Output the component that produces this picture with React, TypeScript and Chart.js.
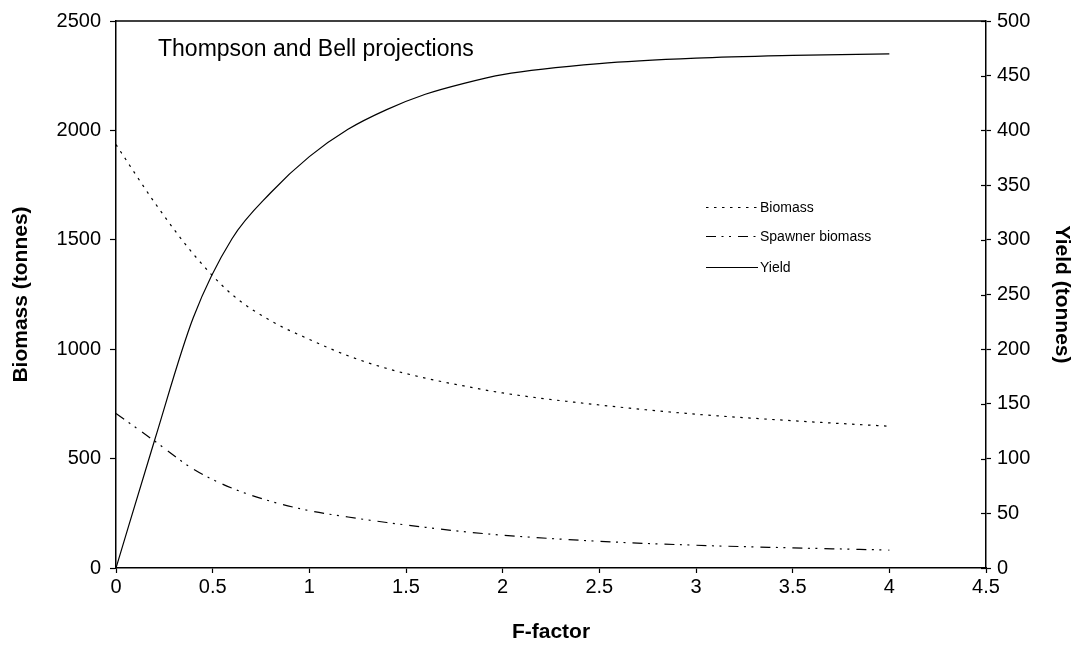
import React, { useEffect, useRef } from 'react';
import { Chart, registerables } from 'chart.js';

Chart.register(...registerables);

const FONT = '"Liberation Sans", Arial, Helvetica, sans-serif';

// F-factor values (x axis)
const fFactor = [0, 0.2, 0.4, 0.6, 0.8, 1.0, 1.2, 1.4, 1.6, 1.8, 2.0, 2.5, 3.0, 3.5, 4.0];
// Biomass (tonnes) – left axis
const biomass = [1935, 1670, 1435, 1250, 1130, 1045, 970, 912, 868, 832, 800, 745, 703, 673, 648];
// Spawner biomass (tonnes) – left axis
const spawnerBiomass = [706, 580, 452, 365, 305, 262, 233, 208, 186, 166, 150, 122, 104, 92, 82];
// Yield (tonnes) – right axis
const yieldValues = [0, 117, 229, 301, 343, 376, 401, 419, 433, 443, 451, 461, 466, 468.5, 470];

const chartTitle = 'Thompson and Bell projections';
const seriesNames = ['Biomass', 'Spawner biomass', 'Yield'];

const biomassDash = [2.5, 5.5];
const spawnerDash = [10, 5.5, 2, 5.5, 2, 7];
const yieldDash: number[] = [];

const toPoints = (ys: number[]) => fFactor.map((x, i) => ({ x, y: ys[i] }));
const plainLabel = (v: any) => String(Math.round(Number(v) * 100) / 100);

const decorPlugin = {
  id: 'decor',
  afterDraw(chart: any) {
    const { ctx, chartArea } = chart;
    ctx.save();
    // top border
    ctx.strokeStyle = '#000';
    ctx.lineWidth = 1.5;
    ctx.setLineDash([]);
    ctx.beginPath();
    ctx.moveTo(chartArea.left, chartArea.top);
    ctx.lineTo(chartArea.right, chartArea.top);
    ctx.stroke();
    // inner halves of right axis ticks (cross ticks)
    const y1 = chart.scales.y1;
    ctx.lineWidth = 1.2;
    y1.ticks.forEach((t: any) => {
      const py = Math.round(y1.getPixelForValue(t.value)) + 0.5;
      ctx.beginPath();
      ctx.moveTo(chartArea.right - 5, py);
      ctx.lineTo(chartArea.right, py);
      ctx.stroke();
    });
    // chart title inside the plot
    ctx.fillStyle = '#000';
    ctx.font = `23px ${FONT}`;
    ctx.textBaseline = 'alphabetic';
    ctx.textAlign = 'left';
    ctx.fillText(chartTitle, 158, 56);
    // legend
    const dashes = [biomassDash, spawnerDash, yieldDash];
    const rowsY = [207, 236, 267];
    ctx.font = `14px ${FONT}`;
    ctx.textBaseline = 'middle';
    seriesNames.forEach((name, i) => {
      ctx.setLineDash(dashes[i]);
      ctx.lineWidth = 1;
      ctx.beginPath();
      ctx.moveTo(706, rowsY[i] + 0.5);
      ctx.lineTo(758, rowsY[i] + 0.5);
      ctx.stroke();
      ctx.setLineDash([]);
      ctx.fillText(name, 760, rowsY[i] + 1);
    });
    ctx.restore();
  },
};

export default function App() {
  const canvasRef = useRef<HTMLCanvasElement | null>(null);

  useEffect(() => {
    if (!canvasRef.current) return;
    const tickFont = { family: FONT, size: 20 };
    const titleFont = { family: FONT, size: 21, weight: 'bold' as const };
    const chart = new Chart(canvasRef.current, {
      type: 'line',
      data: {
        datasets: [
          {
            label: seriesNames[0],
            data: toPoints(biomass),
            yAxisID: 'y',
            borderColor: '#000',
            borderWidth: 1.2,
            borderDash: biomassDash,
            pointRadius: 0,
            cubicInterpolationMode: 'monotone',
            fill: false,
          },
          {
            label: seriesNames[1],
            data: toPoints(spawnerBiomass),
            yAxisID: 'y',
            borderColor: '#000',
            borderWidth: 1.2,
            borderDash: spawnerDash,
            pointRadius: 0,
            cubicInterpolationMode: 'monotone',
            fill: false,
          },
          {
            label: seriesNames[2],
            data: toPoints(yieldValues),
            yAxisID: 'y1',
            borderColor: '#000',
            borderWidth: 1.2,
            pointRadius: 0,
            cubicInterpolationMode: 'monotone',
            fill: false,
          },
        ],
      },
      options: {
        animation: false,
        responsive: false,
        layout: { padding: { top: 20, left: 0, right: 0, bottom: 0 } },
        plugins: { legend: { display: false }, tooltip: { enabled: false }, title: { display: false } },
        scales: {
          x: {
            type: 'linear',
            position: 'bottom',
            min: 0,
            max: 4.5,
            ticks: { stepSize: 0.5, color: '#000', font: tickFont, padding: 2, maxRotation: 0, autoSkip: false, callback: plainLabel },
            grid: { display: true, drawOnChartArea: false, drawTicks: true, tickLength: 5, tickColor: '#000', tickWidth: 1.2 },
            border: { display: true, color: '#000', width: 1.5 },
            title: { display: true, text: 'F-factor', color: '#000', font: titleFont, padding: { top: 4, bottom: 1 } },
            afterFit: (s: any) => { s.height = 78; },
          },
          y: {
            type: 'linear',
            position: 'left',
            min: 0,
            max: 2500,
            ticks: { stepSize: 500, color: '#000', font: tickFont, padding: 9, callback: plainLabel },
            grid: { display: true, drawOnChartArea: false, drawTicks: true, tickLength: 6, tickColor: '#000', tickWidth: 1.2 },
            border: { display: true, color: '#000', width: 1.5 },
            title: { display: true, text: 'Biomass (tonnes)', color: '#000', font: titleFont, padding: { top: 9, bottom: 4 } },
            afterFit: (s: any) => { s.width = 116; },
          },
          y1: {
            type: 'linear',
            position: 'right',
            min: 0,
            max: 500,
            ticks: { stepSize: 50, color: '#000', font: tickFont, padding: 6, callback: plainLabel },
            grid: { display: true, drawOnChartArea: false, drawTicks: true, tickLength: 5, tickColor: '#000', tickWidth: 1.2 },
            border: { display: true, color: '#000', width: 1.5 },
            title: { display: true, text: 'Yield (tonnes)', color: '#000', font: titleFont, padding: { top: 4, bottom: 4 } },
            afterFit: (s: any) => { s.width = 92; },
          },
        },
      },
      plugins: [decorPlugin],
    } as any);
    return () => chart.destroy();
  }, []);

  return (
    <div style={{ position: 'fixed', left: 0, top: 0, width: 1078, height: 646, background: '#fff' }}>
      <canvas ref={canvasRef} width={1078} height={646} style={{ display: 'block' }} />
    </div>
  );
}
